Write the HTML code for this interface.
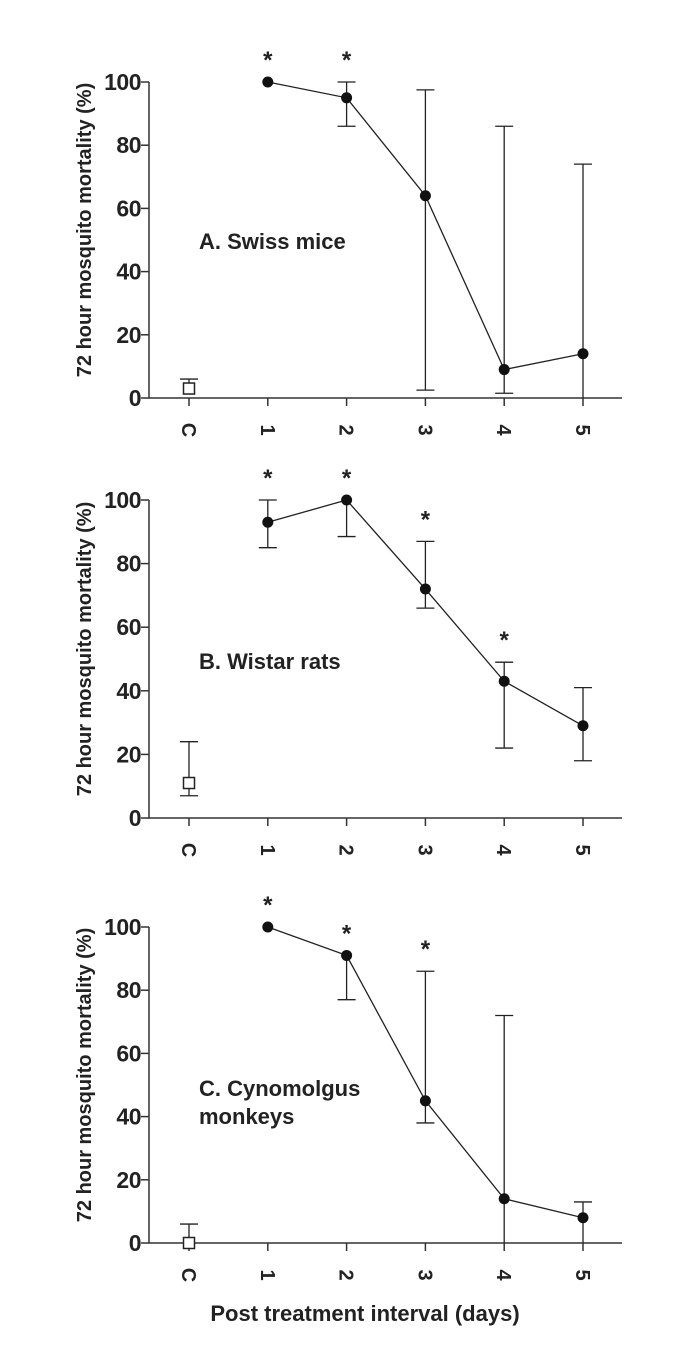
<!DOCTYPE html>
<html><head><meta charset="utf-8"><style>
body{margin:0;background:#fff;width:678px;height:1360px;overflow:hidden}
svg text{font-family:"Liberation Sans",Arial,sans-serif;font-weight:bold;fill:#222}
</style></head><body>
<svg id="chart" width="678" height="1360" xmlns="http://www.w3.org/2000/svg"></svg>
<script>
const categories=["C","1","2","3","4","5"];
const yTicks=[0,20,40,60,80,100];
const titlesA=["A. Swiss mice"];
const titlesB=["B. Wistar rats"];
const titlesC=["C. Cynomolgus","monkeys"];
const meanA=[3,100,95,64,9,14];
const lowA=[3,100,86,2.5,1.5,0];
const highA=[6,100,100,97.5,86,74];
const starA=[0,1,1,0,0,0];
const meanB=[11,93,100,72,43,29];
const lowB=[7,85,88.5,66,22,18];
const highB=[24,100,100,87,49,41];
const starB=[0,1,1,1,1,0];
const meanC=[0,100,91,45,14,8];
const lowC=[0,100,77,38,0,0];
const highC=[6,100,91,86,72,13];
const starC=[0,1,1,1,0,0];

const svg=document.getElementById('chart');
const NS="http://www.w3.org/2000/svg";
function mk(tag,attrs,parent){const e=document.createElementNS(NS,tag);for(const k in attrs)e.setAttribute(k,attrs[k]);(parent||svg).appendChild(e);return e;}
const x0=149,xEnd=622;
function xs(i){return 189+i*78.8;}
function panel(key,y0,y100,mean,low,high,star,titles,ty){
  const g=mk('g',{});
  
  
  const ys=v=>y0-(y0-y100)*v/100;
  const ax=mk('path',{d:`M${x0},${ys(100)}V${y0}H${xEnd}`,stroke:'#333','stroke-width':1.5,fill:'none'},g);
  
  
  yTicks.forEach(t=>{
    mk('line',{x1:x0-8,x2:x0,y1:ys(t),y2:ys(t),stroke:'#333','stroke-width':1.5},g);
    const tx=mk('text',{x:x0-8,y:ys(t)+8,'text-anchor':'end','font-size':23,'letter-spacing':'-0.5'},g);
    tx.textContent=t;
    
    
  });
  categories.forEach((c,i)=>{
    mk('line',{x1:xs(i),x2:xs(i),y1:y0,y2:y0+8,stroke:'#333','stroke-width':1.5},g);
    const tx=mk('text',{x:0,y:0,'text-anchor':'middle','font-size':20,transform:`translate(${xs(i)-7},${y0+32}) rotate(90)`},g);
    tx.textContent=c;
    
    
  });
  const yl=mk('text',{x:0,y:0,'text-anchor':'middle','font-size':20,transform:`translate(91,${(y0+y100)/2-10}) rotate(-90)`},g);
  yl.textContent='72 hour mosquito mortality (%)';
  
  
  titles.forEach((t,k)=>{
    const tt=mk('text',{x:199,y:ty+k*28,'font-size':22},g);
    tt.textContent=t;
    
    
  });
  mean.forEach((m,i)=>{
    const x=xs(i);
    let d=`M${x},${ys(low[i])}V${ys(high[i])}`;
    if(high[i]>m)d+=`M${x-9},${ys(high[i])}H${x+9}`;
    if(low[i]<m&&low[i]>0)d+=`M${x-9},${ys(low[i])}H${x+9}`;
    const eb=mk('path',{d,stroke:'#222','stroke-width':1.3,fill:'none'},g);
    
    
  });
  let d='';
  for(let i=1;i<mean.length;i++)d+=(i==1?'M':'L')+xs(i)+','+ys(mean[i]);
  const ln=mk('path',{d,stroke:'#222','stroke-width':1.3,fill:'none'},g);
  
  
  mean.forEach((m,i)=>{
    let p;
    if(i==0){p=mk('rect',{x:xs(i)-5.5,y:ys(m)-5.5,width:11,height:11,fill:'#fff',stroke:'#222','stroke-width':1.5},g);
      }
    else{p=mk('circle',{cx:xs(i),cy:ys(m),r:5.5,fill:'#111'},g);
      }
    
    if(star[i]){
      const s=mk('text',{x:xs(i),y:ys(Math.max(m,high[i]))-14,'text-anchor':'middle','font-size':24,'font-weight':'normal'},g);
      s.textContent='*';
      
      
    }
  });
}
panel('a',398,82,meanA,lowA,highA,starA,titlesA,249);
panel('b',818,500,meanB,lowB,highB,starB,titlesB,669);
panel('c',1243,927,meanC,lowC,highC,starC,titlesC,1096);
const xt=mk('text',{x:365,y:1321,'text-anchor':'middle','font-size':22});
xt.textContent='Post treatment interval (days)';


</script>
</body></html>
